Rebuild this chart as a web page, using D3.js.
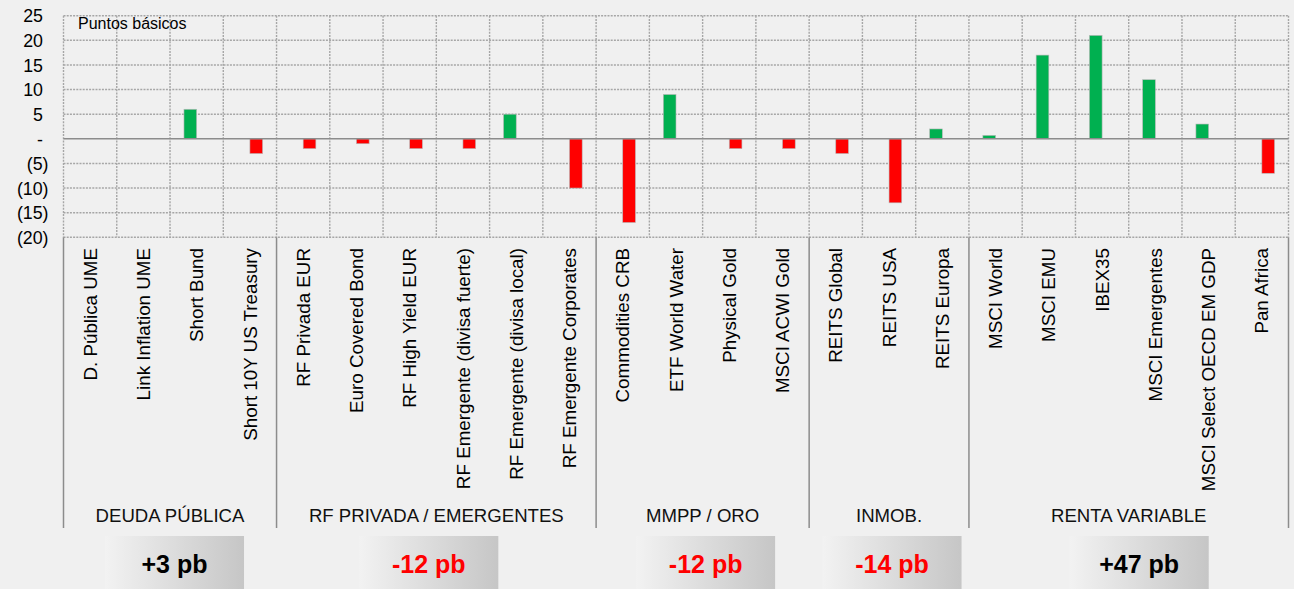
<!DOCTYPE html>
<html>
<head>
<meta charset="utf-8">
<script src="https://cdn.jsdelivr.net/npm/d3@7"></script>
<style>
  html, body { margin: 0; padding: 0; background: #f0f0f0; }
  svg { display: block; font-family: "Liberation Sans", Arial, sans-serif; }
</style>
</head>
<body>
<svg id="chart" width="1294" height="589"></svg>
<script>
// ---- Data ----
const categories = [
  "D. Pública UME", "Link Inflation UME", "Short Bund", "Short 10Y US Treasury",
  "RF Privada EUR", "Euro Covered Bond", "RF High Yield EUR", "RF Emergente (divisa fuerte)",
  "RF Emergente (divisa local)", "RF Emergente Corporates",
  "Commodities CRB", "ETF World Water", "Physical Gold", "MSCI ACWI Gold",
  "REITS Global", "REITS USA", "REITS Europa",
  "MSCI World", "MSCI EMU", "IBEX35", "MSCI Emergentes", "MSCI Select OECD EM GDP", "Pan Africa"
];
const values = [0, 0, 6, -3, -2, -1, -2, -2, 5, -10, -17, 9, -2, -2, -3, -13, 2, 0.7, 17, 21, 12, 3, -7];
const groupNames = ["DEUDA PÚBLICA", "RF PRIVADA / EMERGENTES", "MMPP / ORO", "INMOB.", "RENTA VARIABLE"];
const groupSizes = [4, 6, 4, 3, 6];
const groupTotals = [3, -12, -12, -14, 47];
const yTickValues = [25, 20, 15, 10, 5, 0, -5, -10, -15, -20];
const axisTitle = "Puntos básicos";
const seriesNames = ["Sube", "Baja"];

// ---- Layout constants ----
const boxShift = [4.5, -7.5, 3, 3, 10.5];   // horizontal offset of total boxes from group centre (px)

// ---- Setup ----
const svg = d3.select("#chart");
const W = 1294, H = 589;
svg.append("rect").attr("width", W).attr("height", H).attr("fill", "#f0f0f0");

const x = d3.scaleBand().domain(categories).range([63.5, 1288.5]).padding(0);
const y = d3.scaleLinear().domain([-20, 25]).range([237.3, 15.7]);
const sub = d3.scaleBand().domain(seriesNames).range([0, x.bandwidth()]).paddingInner(0).paddingOuter(1.1);

const gridColor = "#a6a6a6";

// horizontal dotted gridlines
svg.append("g").selectAll("line").data(yTickValues.filter(v => v !== 0)).join("line")
  .attr("x1", x.range()[0]).attr("x2", x.range()[1])
  .attr("y1", d => y(d)).attr("y2", d => y(d))
  .attr("stroke", gridColor).attr("stroke-width", 1.4).attr("stroke-dasharray", "2,1.2");

// vertical dotted gridlines at category boundaries
const boundaries = categories.map(c => x(c)).concat([x.range()[1]]);
svg.append("g").selectAll("line").data(boundaries).join("line")
  .attr("x1", d => d).attr("x2", d => d)
  .attr("y1", y(25)).attr("y2", y(-20))
  .attr("stroke", gridColor).attr("stroke-width", 1.4).attr("stroke-dasharray", "2,1.2");

// bars
const barData = categories.map((c, i) => ({ c, v: values[i], s: values[i] >= 0 ? "Sube" : "Baja" }))
  .filter(d => d.v !== 0);
svg.append("g").selectAll("rect").data(barData).join("rect")
  .attr("x", d => x(d.c) + sub(d.s))
  .attr("width", sub.bandwidth())
  .attr("y", d => y(Math.max(0, d.v)))
  .attr("height", d => Math.abs(y(d.v) - y(0)))
  .attr("fill", d => d.s === "Sube" ? "#00b050" : "#ff0000")
  .attr("stroke", "#b8b8b8").attr("stroke-width", 0.6);

// zero line
svg.append("line")
  .attr("x1", x.range()[0]).attr("x2", x.range()[1])
  .attr("y1", y(0)).attr("y2", y(0))
  .attr("stroke", "#8c8c8c").attr("stroke-width", 1.6);

// y axis labels (accounting format)
const fmt = v => v === 0 ? "-" : (v < 0 ? "(" + Math.abs(v) + ")" : String(v));
const yAxis = d3.axisLeft(y).tickValues(yTickValues).tickFormat(fmt).tickSize(0).tickPadding(0);
const yg = svg.append("g").attr("transform", "translate(43,0)").call(yAxis);
yg.select(".domain").remove();
yg.selectAll("text")
  .attr("fill", "#000").attr("font-size", 17.8)
  .attr("font-family", "'Liberation Sans', Arial, sans-serif")
  .attr("x", d => d < 0 ? 5.5 : 0)
  .attr("dy", "0.35em");

// axis title
svg.append("text").attr("x", 78).attr("y", 28.5).attr("font-size", 16).attr("fill", "#000").text(axisTitle);

// category labels (rotated)
svg.append("g").selectAll("text").data(categories).join("text")
  .attr("transform", d => `translate(${x(d) + x.bandwidth() / 2},248) rotate(-90)`)
  .attr("text-anchor", "end")
  .attr("dy", "0.35em")
  .attr("font-size", 18.8)
  .attr("fill", "#000")
  .text(d => d);

// group separators, labels, totals
let start = 0;
const groupInfo = groupSizes.map((n, i) => {
  const x0 = x(categories[start]);
  const x1 = x(categories[start + n - 1]) + x.bandwidth();
  start += n;
  return { name: groupNames[i], total: groupTotals[i], x0, x1, cx: (x0 + x1) / 2, bx: (x0 + x1) / 2 + boxShift[i] };
});
const sepXs = groupInfo.map(g => g.x0).concat([x.range()[1]]);
svg.append("g").selectAll("line").data(sepXs).join("line")
  .attr("x1", d => d).attr("x2", d => d)
  .attr("y1", y(-20)).attr("y2", 528)
  .attr("stroke", "#8c8c8c").attr("stroke-width", 1.5);

svg.append("g").selectAll("text").data(groupInfo).join("text")
  .attr("x", d => d.cx).attr("y", 522)
  .attr("text-anchor", "middle").attr("font-size", 18.6).attr("fill", "#111")
  .text(d => d.name);

const defs = svg.append("defs");
const grad = defs.append("linearGradient").attr("id", "boxGrad").attr("x1", "0%").attr("x2", "100%").attr("y1", "0%").attr("y2", "0%");
grad.append("stop").attr("offset", "0%").attr("stop-color", "#f2f2f2");
grad.append("stop").attr("offset", "100%").attr("stop-color", "#c6c6c6");

const boxW = 139;
const boxes = svg.append("g").selectAll("g").data(groupInfo).join("g");
boxes.append("rect")
  .attr("x", d => d.bx - boxW / 2).attr("y", 536)
  .attr("width", boxW).attr("height", 60)
  .attr("fill", "url(#boxGrad)");
boxes.append("text")
  .attr("x", d => d.bx).attr("y", 572.5)
  .attr("text-anchor", "middle").attr("font-size", 25).attr("font-weight", "bold")
  .attr("fill", d => d.total < 0 ? "#ff0000" : "#000")
  .text(d => (d.total > 0 ? "+" : "") + d.total + " pb");
</script>
</body>
</html>
